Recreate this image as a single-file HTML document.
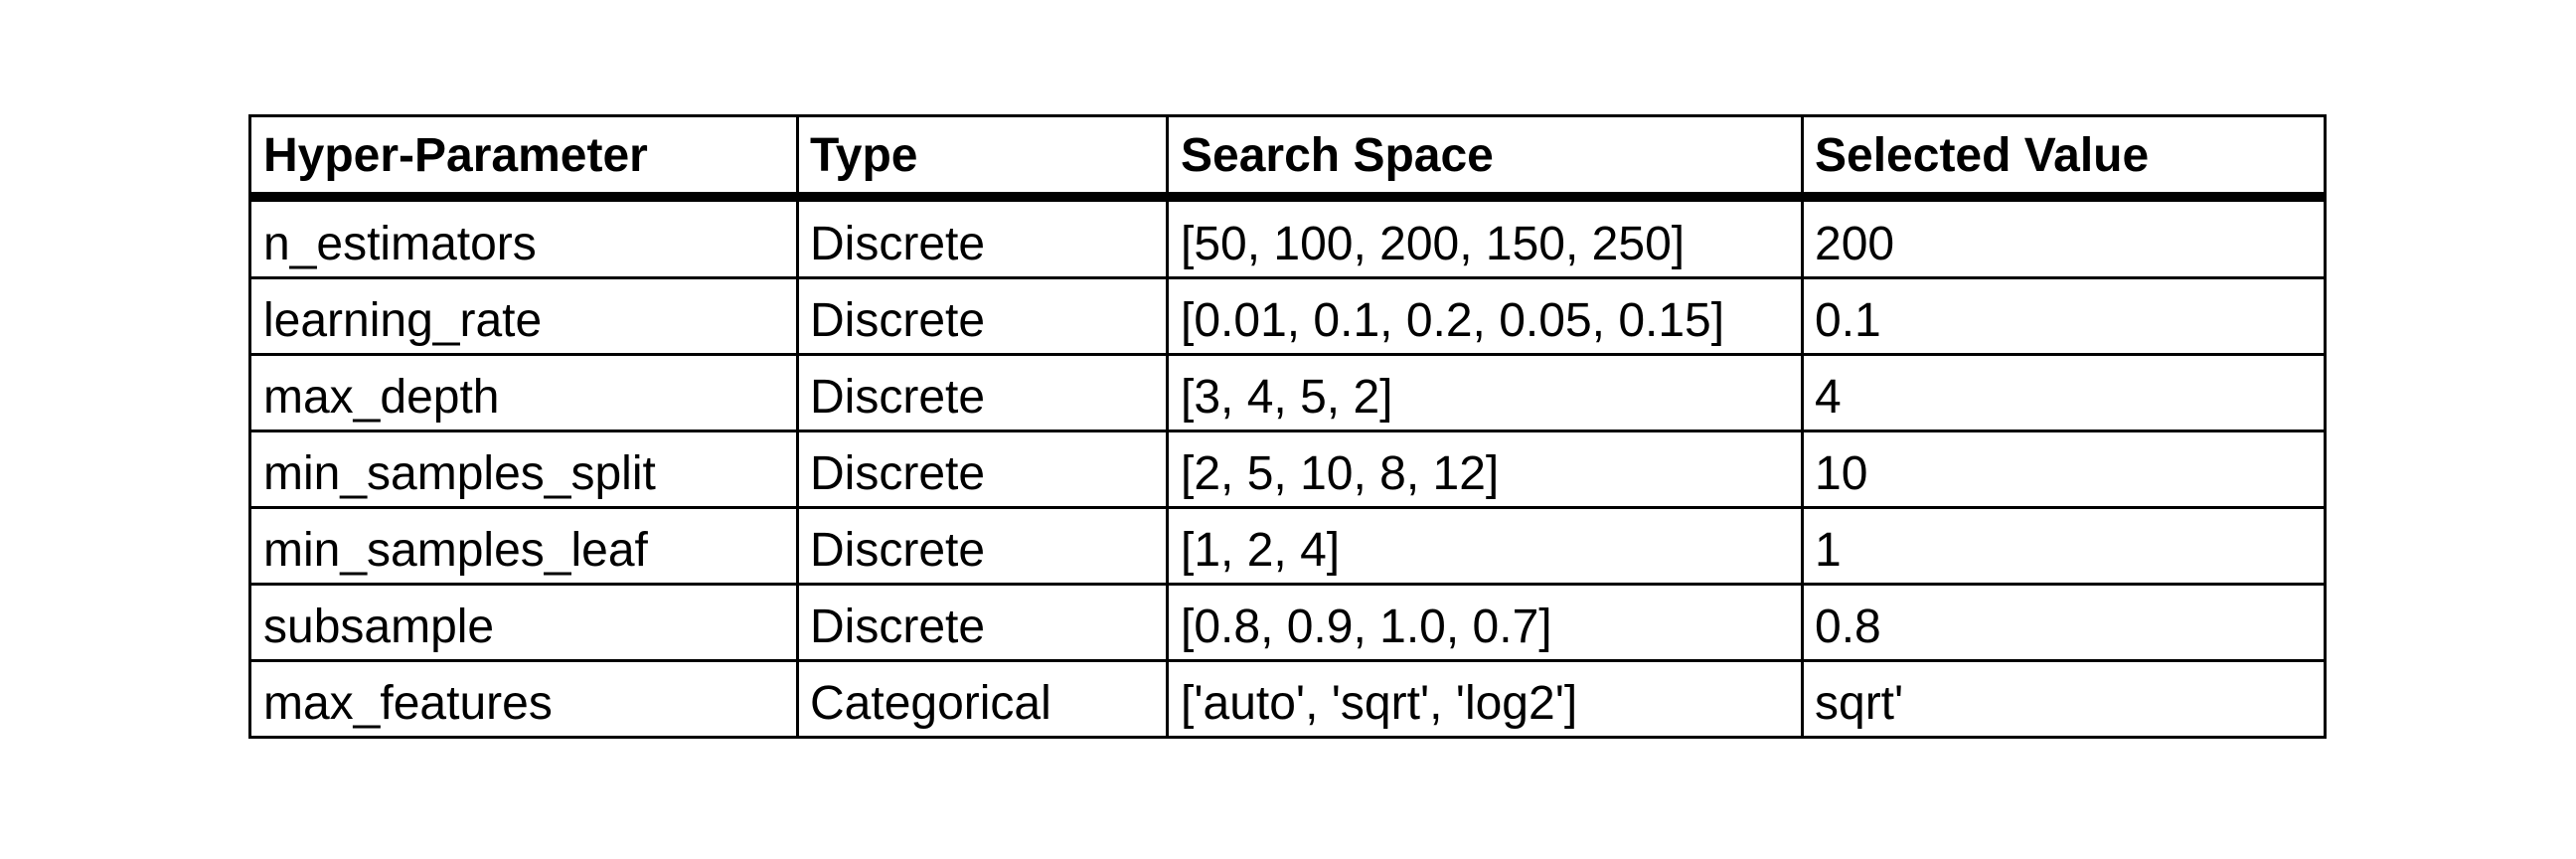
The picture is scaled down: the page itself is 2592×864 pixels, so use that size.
<!DOCTYPE html>
<html><head><style>
body{margin:0;background:#fff;width:2592px;height:864px;position:relative;overflow:hidden;font-family:"Liberation Sans",Arial,sans-serif;}
.h,.v{position:absolute;background:#000;}
.t{position:absolute;font-size:48px;line-height:1;white-space:nowrap;color:#000;}
.b{font-weight:bold;}
</style></head><body>
<div class="h" style="left:250px;top:115px;width:2091px;height:3px"></div>
<div class="h" style="left:250px;top:193px;width:2091px;height:10px"></div>
<div class="h" style="left:250px;top:278px;width:2091px;height:3px"></div>
<div class="h" style="left:250px;top:355px;width:2091px;height:3px"></div>
<div class="h" style="left:250px;top:432px;width:2091px;height:3px"></div>
<div class="h" style="left:250px;top:509px;width:2091px;height:3px"></div>
<div class="h" style="left:250px;top:586px;width:2091px;height:3px"></div>
<div class="h" style="left:250px;top:663px;width:2091px;height:3px"></div>
<div class="h" style="left:250px;top:740px;width:2091px;height:3px"></div>
<div class="v" style="left:250px;top:115px;width:3px;height:628px"></div>
<div class="v" style="left:801px;top:115px;width:3px;height:628px"></div>
<div class="v" style="left:1173px;top:115px;width:3px;height:628px"></div>
<div class="v" style="left:1812px;top:115px;width:3px;height:628px"></div>
<div class="v" style="left:2338px;top:115px;width:3px;height:628px"></div>

<div class="t b" style="left:265px;top:133px">Hyper-Parameter</div>
<div class="t b" style="left:815px;top:133px">Type</div>
<div class="t b" style="left:1188px;top:133px">Search Space</div>
<div class="t b" style="left:1826px;top:133px">Selected Value</div>

<div class="t" style="left:265px;top:222px">n_estimators</div>
<div class="t" style="left:815px;top:222px">Discrete</div>
<div class="t" style="left:1188px;top:222px">[50, 100, 200, 150, 250]</div>
<div class="t" style="left:1826px;top:222px">200</div>

<div class="t" style="left:265px;top:299px">learning_rate</div>
<div class="t" style="left:815px;top:299px">Discrete</div>
<div class="t" style="left:1188px;top:299px">[0.01, 0.1, 0.2, 0.05, 0.15]</div>
<div class="t" style="left:1826px;top:299px">0.1</div>

<div class="t" style="left:265px;top:376px">max_depth</div>
<div class="t" style="left:815px;top:376px">Discrete</div>
<div class="t" style="left:1188px;top:376px">[3, 4, 5, 2]</div>
<div class="t" style="left:1826px;top:376px">4</div>

<div class="t" style="left:265px;top:453px">min_samples_split</div>
<div class="t" style="left:815px;top:453px">Discrete</div>
<div class="t" style="left:1188px;top:453px">[2, 5, 10, 8, 12]</div>
<div class="t" style="left:1826px;top:453px">10</div>

<div class="t" style="left:265px;top:530px">min_samples_leaf</div>
<div class="t" style="left:815px;top:530px">Discrete</div>
<div class="t" style="left:1188px;top:530px">[1, 2, 4]</div>
<div class="t" style="left:1826px;top:530px">1</div>

<div class="t" style="left:265px;top:607px">subsample</div>
<div class="t" style="left:815px;top:607px">Discrete</div>
<div class="t" style="left:1188px;top:607px">[0.8, 0.9, 1.0, 0.7]</div>
<div class="t" style="left:1826px;top:607px">0.8</div>

<div class="t" style="left:265px;top:684px">max_features</div>
<div class="t" style="left:815px;top:684px">Categorical</div>
<div class="t" style="left:1188px;top:684px">['auto', 'sqrt', 'log2']</div>
<div class="t" style="left:1826px;top:684px">sqrt'</div>
</body></html>
